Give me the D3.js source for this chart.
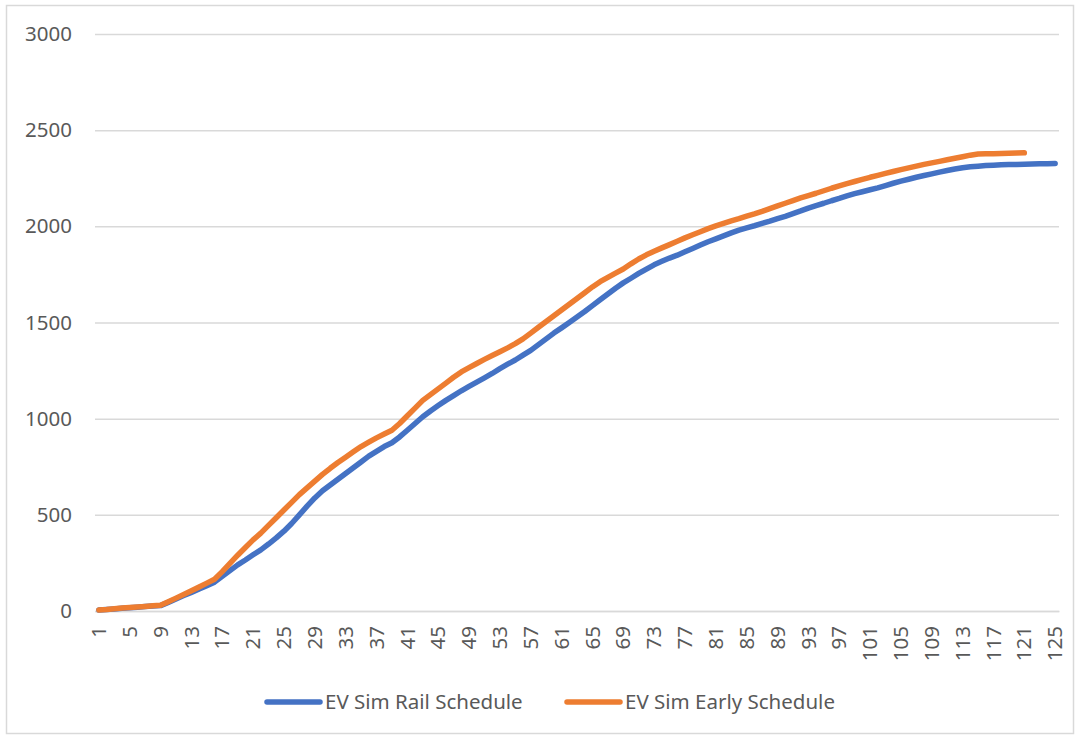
<!DOCTYPE html>
<html>
<head>
<meta charset="utf-8">
<script src="https://cdn.jsdelivr.net/npm/d3@7"></script>
<style>
  body { margin: 0; background: #fff; }
  text { font-family: "Noto Sans", "Open Sans", sans-serif; fill: #595959; }
</style>
</head>
<body>
<div id="container"></div>
<script>
const railSchedule = [
  5, 8, 11, 14, 17, 20, 23, 26, 28, 45,
  62, 80, 97, 115, 132, 150, 180, 210, 240, 265,
  292, 318, 348, 380, 415, 455, 500, 545, 588, 625,
  655, 685, 715, 745, 775, 805, 830, 855, 875, 905,
  940, 975, 1010, 1040, 1068, 1095, 1120, 1145, 1168, 1190,
  1212, 1235, 1260, 1283, 1305, 1330, 1355, 1385, 1415, 1445,
  1472, 1500, 1528, 1557, 1588, 1618, 1648, 1678, 1706, 1730,
  1755, 1778, 1800, 1818, 1835, 1850, 1868, 1885, 1903, 1920,
  1935, 1950, 1966, 1980, 1992, 2003, 2015, 2027, 2040, 2052,
  2066, 2080, 2095, 2108, 2120, 2133, 2145, 2158, 2170, 2180,
  2190, 2200, 2212, 2224, 2235, 2245, 2255, 2264, 2273, 2282,
  2290, 2298, 2305, 2310, 2313, 2316, 2318, 2320, 2321, 2322,
  2323, 2324, 2325, 2326, 2327
];
const earlySchedule = [
  5, 8, 12, 15, 18, 21, 24, 27, 30, 48,
  67, 86, 105, 125, 145, 165, 205, 248, 290, 330,
  370, 405, 445, 485, 525, 565, 605, 640, 675, 710,
  742, 772, 800, 828, 855, 878, 900, 920, 940, 975,
  1015, 1055, 1095, 1125, 1155, 1185, 1215, 1243, 1265, 1287,
  1308, 1328, 1348, 1368, 1390, 1415, 1445, 1475, 1505, 1535,
  1565, 1595, 1625, 1655, 1685, 1712, 1735, 1757, 1778, 1805,
  1830, 1852, 1870, 1888, 1905, 1922, 1940, 1956, 1972, 1988,
  2002, 2015, 2028, 2040, 2053, 2065, 2078, 2092, 2106, 2120,
  2134, 2148, 2160, 2172, 2185, 2198, 2210, 2222, 2233, 2244,
  2255, 2265, 2275, 2285, 2295, 2304, 2313, 2322, 2330, 2338,
  2346, 2354, 2362, 2370, 2376, 2377, 2378, 2379, 2380, 2381,
  2382
];
const categories = d3.range(1, 126);
const yTicks = [0, 500, 1000, 1500, 2000, 2500, 3000];
const seriesNames = ['EV Sim Rail Schedule', 'EV Sim Early Schedule'];
const seriesColors = ['#4472C4', '#ED7D31'];

const width = 1079;
const height = 738;
const plot = { left: 95, right: 1059, top: 34, bottom: 611 };

const svg = d3
  .select('#container')
  .append('svg')
  .attr('width', width)
  .attr('height', height);

svg
  .append('rect')
  .attr('x', 6.5)
  .attr('y', 5.5)
  .attr('width', 1067)
  .attr('height', 728)
  .attr('fill', 'none')
  .attr('stroke', '#d9d9d9')
  .attr('stroke-width', 1.5);

const x = d3.scaleBand().domain(categories).range([plot.left, plot.right]);
const y = d3.scaleLinear().domain([0, 3000]).range([plot.bottom, plot.top]);
const cx = (d) => x(d) + x.bandwidth() / 2;

// y axis + gridlines
const yAxis = svg
  .append('g')
  .attr('transform', 'translate(' + plot.left + ',0)')
  .call(
    d3.axisLeft(y)
      .tickValues(yTicks)
      .tickFormat(d3.format('d'))
      .tickSizeInner(-(plot.right - plot.left))
      .tickSizeOuter(0)
      .tickPadding(23)
  );
yAxis.select('.domain').remove();
yAxis.selectAll('line').attr('stroke', '#d9d9d9').attr('stroke-width', 1.5);
yAxis.selectAll('text').style('font-size', '20.5px').attr('fill', '#595959');

// x axis
const xAxis = svg
  .append('g')
  .attr('transform', 'translate(0,' + plot.bottom + ')')
  .call(
    d3.axisBottom(x)
      .tickValues(categories.filter((d) => (d - 1) % 4 === 0))
      .tickSize(0)
  );
xAxis.select('.domain').attr('stroke', '#d9d9d9').attr('stroke-width', 1.5);
xAxis
  .selectAll('text')
  .style('font-size', '20.5px')
  .attr('fill', '#595959')
  .attr('text-anchor', 'end')
  .attr('transform', 'rotate(-90)')
  .attr('x', -15)
  .attr('y', 0)
  .attr('dy', '0.35em');

// lines
const line = d3
  .line()
  .x((d, i) => cx(categories[i]))
  .y((d) => y(d));

[railSchedule, earlySchedule].forEach((values, k) => {
  svg
    .append('path')
    .datum(values)
    .attr('d', line)
    .attr('fill', 'none')
    .attr('stroke', seriesColors[k])
    .attr('stroke-width', 5.5)
    .attr('stroke-linejoin', 'round')
    .attr('stroke-linecap', 'round');
});

// legend
const legendX = [265, 565];
const legend = svg
  .selectAll('.legend-item')
  .data(seriesNames)
  .enter()
  .append('g')
  .attr('class', 'legend-item')
  .attr('transform', (d, i) => 'translate(' + legendX[i] + ',702)');
legend
  .append('line')
  .attr('x1', 2)
  .attr('x2', 55)
  .attr('stroke', (d, i) => seriesColors[i])
  .attr('stroke-width', 5.5)
  .attr('stroke-linecap', 'round');
legend
  .append('text')
  .attr('x', 60)
  .attr('dy', '0.35em')
  .style('font-size', '20.5px')
  .text((d) => d);
</script>
</body>
</html>
